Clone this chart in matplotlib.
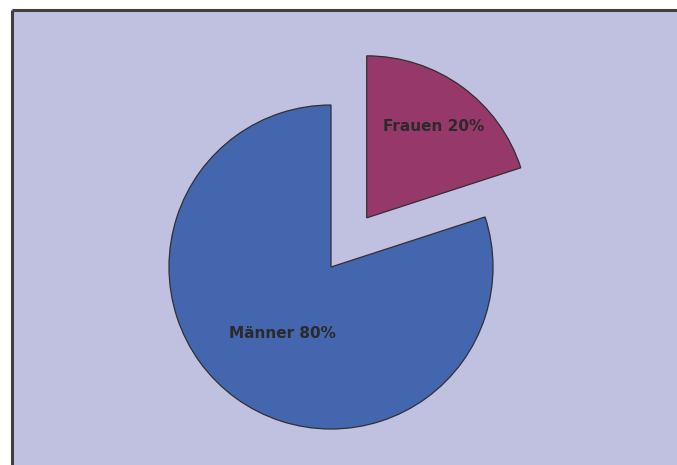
import numpy as np
import matplotlib
matplotlib.use("Agg")
import matplotlib.pyplot as plt
from matplotlib.patches import Rectangle

categories = ["Frauen", "Männer"]
shares = [20, 80]
explode = [0.375, 0.0]
colors = ["#96386A", "#4466AF"]
bg = "#C0C0E0"

W, H = 677, 465
fig = plt.figure(figsize=(W / 100, H / 100), dpi=100)
fig.patch.set_facecolor("white")
ax = fig.add_axes([0, 0, 1, 1])

# plot area background with top and left border
ax.add_patch(Rectangle((11.5, -5), W + 10, H - 10.5 + 5, facecolor=bg,
                       edgecolor="none", zorder=0))
ax.plot([11.5, 11.5], [0, H - 10.5], color="#404040", lw=2.2, zorder=1,
        solid_capstyle="butt")
ax.plot([11.5, W], [H - 10.5, H - 10.5], color="#404040", lw=2.2, zorder=1,
        solid_capstyle="butt")

cx, cy, R = 331, H - 267, 162
wedges, _ = ax.pie(shares, explode=[e * R for e in explode], colors=colors,
                   startangle=90, counterclock=False, center=(cx, cy),
                   radius=R,
                   wedgeprops=dict(edgecolor="#303030", linewidth=0.9),
                   frame=True)
ax.set_xlim(0, W)
ax.set_ylim(0, H)
ax.set_aspect("equal")
ax.axis("off")

label_frac = [0.70, 0.51]
for w, cat, val, lf in zip(wedges, categories, shares, label_frac):
    ang = np.deg2rad((w.theta1 + w.theta2) / 2)
    x0, y0 = w.center
    ax.text(x0 + lf * R * np.cos(ang), y0 + lf * R * np.sin(ang),
            f"{cat} {val}%", ha="center", va="center", fontsize=11,
            fontweight="bold", color="#2a2a2a", zorder=5)

fig.savefig("out.png", dpi=100, facecolor="white")
